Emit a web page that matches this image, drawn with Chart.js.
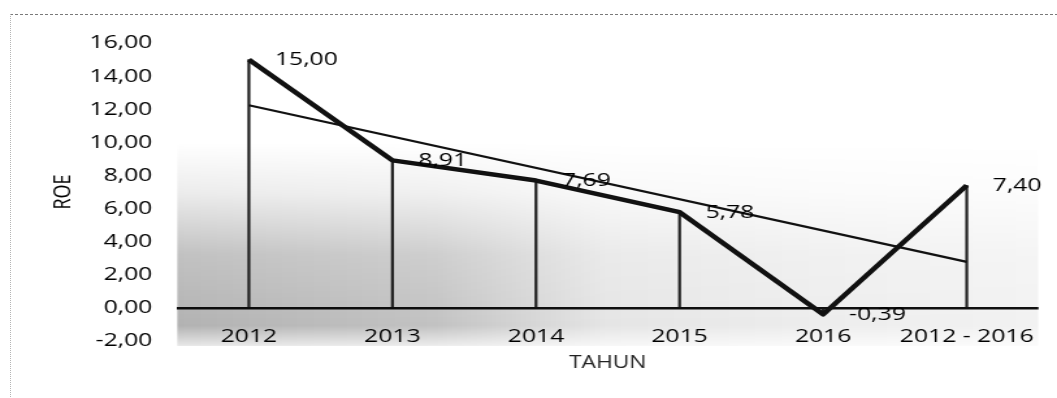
<!DOCTYPE html>
<html>
<head>
<meta charset="utf-8">
<script src="https://cdn.jsdelivr.net/npm/chart.js@4"></script>
<style>
  html, body { margin: 0; padding: 0; background: #fff; }
  .page { position: relative; width: 1057px; height: 398px; overflow: hidden; }
  .frame {
    position: absolute; left: 10px; top: 14px; width: 1047px; height: 384px;
    border-top: 1px dashed #7a7a7a; border-left: 1px dotted #b5b5b5;
  }
  /* canvas is drawn narrow and widened, the printed figure is stretched sideways */
  #roeChart { position: absolute; left: 0; top: 0; transform: scaleX(1.30012); transform-origin: 0 0; }
</style>
</head>
<body>
<div class="page">
  <div class="frame"></div>
  <canvas id="roeChart" width="813" height="398"></canvas>
</div>
<script>
const tahun = ['2012', '2013', '2014', '2015', '2016', '2012 - 2016'];
const roe = [15.00, 8.91, 7.69, 5.78, -0.39, 7.40];
const trendRoe = [12.24, null, null, null, null, 2.78];
const yTicks = { min: -2, max: 16, step: 2 };

const FONT = "'Open Sans', 'Liberation Sans', sans-serif";
const fmt = v => v.toFixed(2).replace('.', ',');

// grainy grey shading left by the print, heaviest bottom-left
const hazePlugin = {
  id: 'haze',
  beforeDatasetsDraw(chart) {
    const { ctx, chartArea, scales } = chart;
    const top = scales.y.getPixelForValue(10);
    const bottom = scales.y.getPixelForValue(-2.3);
    const left = chartArea.left;
    const right = chartArea.right;
    const off = document.createElement('canvas');
    off.width = chart.width;
    off.height = chart.height;
    const o = off.getContext('2d');
    const gx = o.createLinearGradient(left, 0, right, 0);
    gx.addColorStop(0, 'rgba(0,0,0,0.30)');
    gx.addColorStop(0.3, 'rgba(0,0,0,0.24)');
    gx.addColorStop(0.5, 'rgba(0,0,0,0.10)');
    gx.addColorStop(0.75, 'rgba(0,0,0,0.07)');
    gx.addColorStop(1, 'rgba(0,0,0,0.05)');
    o.fillStyle = gx;
    o.fillRect(left, top, right - left, bottom - top);
    o.globalCompositeOperation = 'destination-in';
    const gy = o.createLinearGradient(0, top, 0, bottom);
    gy.addColorStop(0, 'rgba(0,0,0,0)');
    gy.addColorStop(0.25, 'rgba(0,0,0,0.25)');
    gy.addColorStop(0.55, 'rgba(0,0,0,0.8)');
    gy.addColorStop(0.9, 'rgba(0,0,0,1)');
    gy.addColorStop(1, 'rgba(0,0,0,0.3)');
    o.fillStyle = gy;
    o.fillRect(left, top, right - left, bottom - top);
    ctx.save();
    ctx.drawImage(off, 0, 0);
    ctx.restore();
  }
};

// value labels to the right of each point of the ROE line
const valueLabels = {
  id: 'valueLabels',
  afterDatasetsDraw(chart) {
    const { ctx } = chart;
    const meta = chart.getDatasetMeta(0);
    ctx.save();
    ctx.font = `19px ${FONT}`;
    ctx.fillStyle = '#000';
    ctx.textAlign = 'left';
    ctx.textBaseline = 'middle';
    meta.data.forEach((pt, i) => {
      ctx.fillText(fmt(roe[i]), pt.x + 20, pt.y);
    });
    ctx.restore();
  }
};

new Chart(document.getElementById('roeChart'), {
  data: {
    labels: tahun,
    datasets: [
      {
        type: 'line',
        label: 'ROE',
        data: roe,
        borderColor: '#111',
        borderWidth: 4.5,
        borderJoinStyle: 'round',
        pointRadius: 0,
        tension: 0,
        order: 0
      },
      {
        type: 'line',
        label: 'Trend',
        data: trendRoe,
        spanGaps: true,
        borderColor: '#111',
        borderWidth: 2.2,
        pointRadius: 0,
        tension: 0,
        order: 1
      },
      {
        // thin drop lines from each point down to the axis
        type: 'bar',
        label: 'drop',
        data: roe,
        backgroundColor: '#222',
        barThickness: 1.6,
        order: 2
      }
    ]
  },
  options: {
    responsive: false,
    animation: false,
    layout: { padding: { left: 0, top: 43, right: 12, bottom: 57 } },
    plugins: {
      legend: { display: false },
      tooltip: { enabled: false }
    },
    scales: {
      x: {
        position: { y: 0 },
        offset: true,
        grid: { display: false, drawTicks: false },
        border: { display: false },
        ticks: {
          color: '#000',
          font: { family: FONT, size: 19 },
          padding: 17,
          autoSkip: false,
          maxRotation: 0
        },
        title: {
          display: true,
          text: 'TAHUN',
          color: '#222',
          font: { family: FONT, size: 17.5 },
          padding: { top: 0, bottom: 0 }
        },
        afterFit(scale) { scale.height = 66; }
      },
      y: {
        min: yTicks.min,
        max: yTicks.max,
        grid: {
          drawTicks: false,
          color: c => (c.tick && c.tick.value === 0 ? '#111' : 'rgba(0,0,0,0)'),
          lineWidth: 2.5
        },
        border: { display: false },
        ticks: {
          stepSize: yTicks.step,
          color: '#000',
          font: { family: FONT, size: 19 },
          padding: 19,
          callback: v => fmt(v)
        },
        title: {
          display: true,
          text: 'ROE',
          color: '#000',
          font: { family: FONT, size: 18 },
          padding: { top: 38, bottom: 0 }
        },
        afterFit(scale) { scale.width = 136.2; }
      }
    }
  },
  plugins: [hazePlugin, valueLabels]
});
</script>
</body>
</html>
